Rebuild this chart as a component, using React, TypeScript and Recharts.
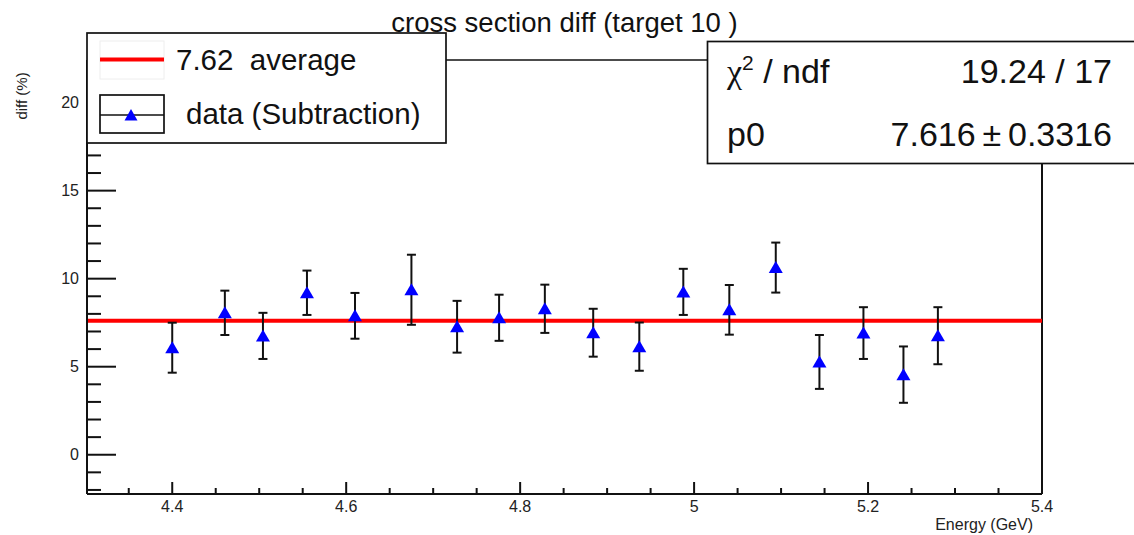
import { ScatterChart, Scatter, XAxis, YAxis, ErrorBar, ReferenceLine } from 'recharts';

const energies = [4.4, 4.4605, 4.5043, 4.5549, 4.6101, 4.675, 4.7275, 4.7758, 4.8284, 4.884, 4.937, 4.9876, 5.0405, 5.0939, 5.1441, 5.1947, 5.2407, 5.2803];
const diffs = [6.08, 8.06, 6.75, 9.2, 7.89, 9.37, 7.27, 7.78, 8.29, 6.93, 6.14, 9.25, 8.23, 10.63, 5.27, 6.91, 4.55, 6.76];
const errors = [1.42, 1.26, 1.31, 1.26, 1.3, 1.99, 1.47, 1.31, 1.37, 1.36, 1.37, 1.31, 1.41, 1.42, 1.53, 1.47, 1.6, 1.62];
const average = 7.616;

const xDomain = [4.302, 5.4];
const yDomain = [-2.23, 22.42];

const xTicks = [4.35, 4.4, 4.45, 4.5, 4.55, 4.6, 4.65, 4.7, 4.75, 4.8, 4.85, 4.9, 4.95, 5.0, 5.05, 5.1, 5.15, 5.2, 5.25, 5.3, 5.35, 5.4];
const xMajorTicks = [4.4, 4.6, 4.8, 5.0, 5.2, 5.4];
const xTickLabels = ['4.4', '4.6', '4.8', '5', '5.2', '5.4'];

const yTicks = [-2, -1, 0, 1, 2, 3, 4, 5, 6, 7, 8, 9, 10, 11, 12, 13, 14, 15, 16, 17, 18, 19, 20, 21, 22];
const yMajorTicks = [0, 5, 10, 15, 20];
const yTickLabels = ['0', '5', '10', '15', '20'];

const points = energies.map((x, i) => ({ x, y: diffs[i], err: errors[i] }));

const font = "'Liberation Sans', Arial, Helvetica, sans-serif";
const ink = '#111';

function XTick(props: any) {
  const { x, y, payload } = props;
  const i = xMajorTicks.findIndex((v) => Math.abs(v - payload.value) < 1e-6);
  const major = i >= 0;
  return (
    <g>
      <line x1={x} x2={x} y1={y} y2={y - (major ? 12 : 6)} stroke={ink} strokeWidth={2} />
      {major && (
        <text x={x} y={y + 18} textAnchor="middle" fontSize={16} fontFamily={font} fill="#222">
          {xTickLabels[i]}
        </text>
      )}
    </g>
  );
}

function YTick(props: any) {
  const { x, y, payload } = props;
  const i = yMajorTicks.indexOf(payload.value);
  const major = i >= 0;
  return (
    <g>
      <line x1={x} x2={x + (major ? 29 : 14)} y1={y} y2={y} stroke={ink} strokeWidth={2} />
      {major && (
        <text x={x - 8} y={y} dy="0.36em" textAnchor="end" fontSize={16} fontFamily={font} fill="#222">
          {yTickLabels[i]}
        </text>
      )}
    </g>
  );
}

function Triangle(props: any) {
  const { cx, cy } = props;
  return <path d={`M${cx},${cy - 6.5} L${cx + 7},${cy + 5.5} L${cx - 7},${cy + 5.5} Z`} fill="#0000ff" />;
}

function Overlay() {
  return (
    <svg width={1134} height={535} style={{ position: 'absolute', left: 0, top: 0, pointerEvents: 'none' }} fontFamily={font}>
      {/* legend */}
      <rect x={87} y={33} width={359} height={110} fill="#fff" stroke={ink} strokeWidth={1.7} />
      <rect x={100} y={41} width={64} height={38} fill="none" stroke="#eee" strokeWidth={1} />
      <line x1={100} x2={164} y1={59.5} y2={59.5} stroke="#ff0000" strokeWidth={4} />
      <text x={176} y={70} fontSize={29.5} fill="#111" style={{ whiteSpace: 'pre' }}>
        7.62  average
      </text>
      <rect x={100} y={95} width={64} height={38} fill="none" stroke={ink} strokeWidth={1.7} />
      <line x1={100} x2={164} y1={115} y2={115} stroke={ink} strokeWidth={1.7} />
      <path d="M131,109 L137.5,120.5 L124.5,120.5 Z" fill="#0000ff" />
      <text x={186} y={124} fontSize={29.5} fill="#111">
        data (Subtraction)
      </text>

      {/* title */}
      <text x={564.5} y={32} textAnchor="middle" fontSize={27.5} fill="#111">
        cross section diff (target 10 )
      </text>

      {/* fit statistics */}
      <rect x={707.5} y={41.5} width={430} height={122} fill="#fff" stroke={ink} strokeWidth={1.7} />
      <text x={727} y={83} fontSize={34} fill="#111">
        <tspan fontFamily="'Liberation Serif', 'DejaVu Serif', serif">χ</tspan>
        <tspan dy={-13} fontSize={21}>2</tspan>
        <tspan dy={13}> / ndf</tspan>
      </text>
      <text x={1112} y={83} textAnchor="end" fontSize={34} fill="#111">
        19.24 / 17
      </text>
      <text x={727} y={146} fontSize={34} fill="#111">
        p0
      </text>
      <text x={1112} y={146} textAnchor="end" fontSize={34} fill="#111">
        7.616{'\u2009'}±{'\u2009'}0.3316
      </text>

      {/* axis titles */}
      <text x={21} y={96} transform="rotate(-90, 21, 96)" textAnchor="middle" dominantBaseline="central" fontSize={15} fill="#222">
        diff (%)
      </text>
      <text x={1033} y={530} textAnchor="end" fontSize={16} fill="#222">
        Energy (GeV)
      </text>
    </svg>
  );
}

export default function App() {
  return (
    <div style={{ position: 'absolute', left: 0, top: 0, width: 1134, height: 535, background: '#fff' }}>
      <ScatterChart width={1134} height={535} margin={{ top: 60, right: 92, bottom: 1, left: 27 }}>
        <XAxis
          dataKey="x"
          type="number"
          domain={xDomain}
          allowDataOverflow
          ticks={xTicks}
          interval={0}
          tick={<XTick />}
          tickLine={false}
          tickSize={0}
          tickMargin={0}
          height={40}
          axisLine={{ stroke: ink, strokeWidth: 2 }}
        />
        <YAxis
          dataKey="y"
          type="number"
          domain={yDomain}
          allowDataOverflow
          ticks={yTicks}
          interval={0}
          tick={<YTick />}
          tickLine={false}
          tickSize={0}
          tickMargin={0}
          width={60}
          axisLine={{ stroke: ink, strokeWidth: 2 }}
        />
        <ReferenceLine y={yDomain[1]} stroke={ink} strokeWidth={1.6} />
        <ReferenceLine x={xDomain[1]} stroke={ink} strokeWidth={2} />
        <ReferenceLine y={average} stroke="#ff0000" strokeWidth={4} />
        <Scatter data={points} fill="#0000ff" shape={<Triangle />} isAnimationActive={false}>
          <ErrorBar dataKey="err" direction="y" width={4.5} stroke={ink} strokeWidth={2} />
        </Scatter>
      </ScatterChart>
      <Overlay />
    </div>
  );
}
